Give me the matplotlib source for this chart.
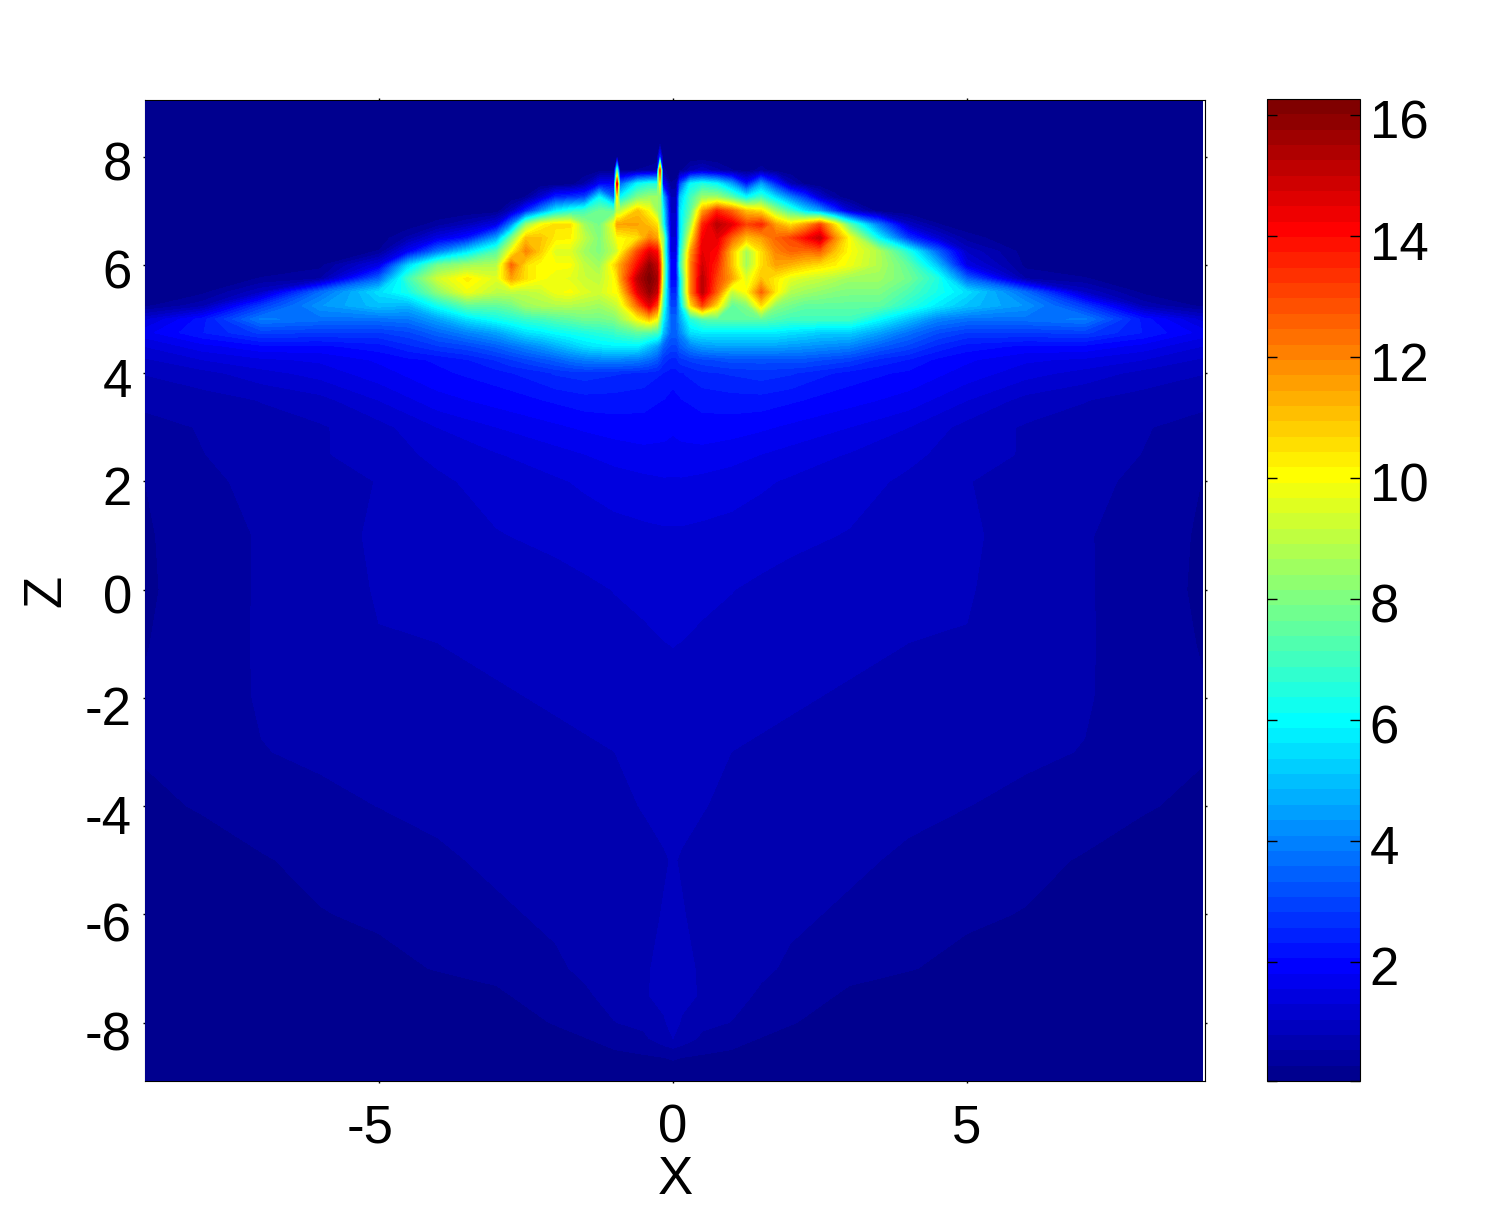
import matplotlib

matplotlib.use("Agg")
import matplotlib.pyplot as plt  # noqa: E402
import numpy as np  # noqa: E402
from matplotlib.colors import LinearSegmentedColormap  # noqa: E402
from matplotlib.transforms import ScaledTranslation  # noqa: E402

W, H = 1509, 1213
VMIN, VMAX = 0.03, 16.27

# fine grid for the bright cap, z >= 4
upper_x = [-9, -8, -7, -6, -5, -4.5, -4, -3.5, -3, -2.75, -2.5, -2.25, -2, -1.75, -1.5, -1.25,
           -1.0, -0.95, -0.9, -0.6, -0.4, -0.27, -0.22, -0.17, -0.04, 0.06, 0.12, 0.3,
           0.5, 0.75, 1, 1.25, 1.5, 1.75, 2, 2.25, 2.5, 2.75, 3, 3.5, 4, 4.5, 5, 6, 7, 8, 9]
upper_z = [4, 4.25, 4.5, 4.75, 5, 5.25, 5.5, 5.75, 6, 6.25, 6.5, 6.75, 7, 7.25, 7.5, 7.75, 8, 8.25, 9.03]
upper_vals = [
    [.8, .95, 1.2, 1.4, 1.7, 1.85, 2, 2.1, 2.2, 2.3, 2.35, 2.45, 2.6, 2.65, 2.7, 2.65,
     2.6, 2.6, 2.58, 2.52, 2.45, 2.4, 2.35, 2.3, 2.22, 2.22, 2.28, 2.35,
     2.5, 2.55, 2.6, 2.65, 2.7, 2.65, 2.6, 2.5, 2.4, 2.3, 2.2, 2.1, 2, 1.85, 1.7, 1.4, 1.2, .95, .8],
    [1, 1.3, 1.5, 1.6, 1.85, 2, 2.1, 2.3, 2.6, 2.8, 3, 3.2, 3.4, 3.7, 3.9, 4,
     4, 4, 4, 3.9, 3.6, 3.3, 3, 2.7, 2.5, 2.5, 2.7, 2.9,
     3, 3.1, 3.2, 3.2, 3.2, 3.2, 3.2, 3.2, 3.1, 3, 2.9, 2.5, 2.3, 2, 1.85, 1.6, 1.5, 1.3, 1],
    [1.3, 1.7, 2, 2, 2.2, 2.5, 2.8, 3, 3.4, 3.7, 4, 4.3, 4.7, 5.1, 5.5, 5.7,
     5.8, 5.8, 5.8, 5.8, 5, 4.5, 4, 3.5, 3, 3, 3.4, 4,
     4.4, 4.5, 4.5, 4.5, 4.5, 4.5, 4.4, 4.3, 4.2, 4.1, 4, 3.4, 3, 2.5, 2.2, 2, 2, 1.7, 1.3],
    [1.7, 2.3, 2.9, 2.8, 2.8, 3, 3.5, 4, 4.5, 5, 5.5, 5.7, 6, 6.2, 6.4, 6.6,
     6.8, 7, 7, 7.5, 7.3, 7, 6.5, 5, 3.5, 3.5, 4, 5.5,
     5.7, 5.7, 5.7, 5.7, 5.7, 5.7, 5.5, 5.4, 5.2, 5.2, 5.2, 4.5, 3.7, 3.1, 2.8, 2.8, 2.9, 2.3, 1.7],
    [1.2, 2.2, 3.9, 3.7, 3.7, 3.8, 4.5, 5.5, 6.2, 6.5, 6.8, 7, 7.3, 7.5, 7.8, 7.8,
     8, 8.2, 8.5, 10, 11, 10, 8, 6, 3.5, 3.5, 4.5, 6.5,
     7.3, 7.5, 7.5, 7.5, 7.5, 7.2, 7, 7, 7, 7, 7, 6, 5, 4, 3.7, 3.7, 3.9, 2.2, 1.2],
    [.2, .7, 2.8, 4.3, 5, 4.8, 6.2, 7.5, 7.5, 7.8, 8.5, 8.7, 8.8, 8.8, 8.7, 8.5,
     9, 9.2, 9.5, 12.5, 14.5, 13, 10, 7, 3, 3, 5, 10.5,
     13, 10.5, 7.5, 8, 10.5, 8.2, 7.8, 7.5, 7.5, 7.5, 7.5, 7.5, 6.6, 5.7, 5, 4.3, 2.8, .7, .2],
    [.1, .2, 1, 3.6, 5.5, 6.3, 8.2, 9.8, 9, 9, 9, 9.2, 9.8, 10, 9.5, 9.3,
     10, 10, 10.5, 14.5, 15.8, 15, 12, 8, 2.5, 2.5, 5.5, 12,
     15.2, 12.5, 9, 10, 12.5, 10.3, 8.8, 8.5, 8.3, 8.1, 8, 8, 7.2, 6.3, 5.5, 3.6, 1, .2, .1],
    [.05, .1, .3, .5, 3.5, 7, 9.3, 10.3, 9.5, 11.5, 10.5, 10, 9.8, 9.6, 9.2, 9,
     10, 10.5, 11.5, 15.2, 16.2, 15.5, 13, 8.8, 2, 2, 5.5, 12,
     15.2, 13, 11.5, 9.5, 11, 10.3, 9.6, 9.3, 9.1, 8.8, 8.5, 8.5, 7.8, 6.5, 3.5, .5, .3, .1, .05],
    [.05, .05, .1, .2, 1.5, 5.3, 7.8, 8.5, 8.8, 12.5, 10.5, 10, 10, 10, 9, 8.5,
     10.5, 11, 11.5, 14, 15.8, 15, 13, 9, 2, 2, 6.5, 12,
     14.8, 13.5, 11, 8.5, 10.5, 11.5, 11.2, 10.8, 10.5, 10.2, 9.8, 8.8, 7.5, 5, 1.5, .2, .1, .05, .05],
    [0, 0, .03, .1, .3, 1.8, 3.8, 5.5, 7.3, 10, 12, 10.8, 9.5, 9.5, 8.5, 8,
     9, 9.3, 10, 13, 14.5, 14, 12, 8.5, 1.5, 1.5, 6, 11.5,
     14.5, 14, 11, 8.5, 10.5, 12, 12.5, 12.3, 12.5, 11, 10, 8.8, 6.5, 3.5, 1, .15, .03, 0, 0],
    [0, 0, 0, .02, .1, .6, 1.5, 2.2, 4.5, 7.8, 11, 11, 10.3, 10.2, 9, 8,
     9.5, 10, 10, 10.5, 12, 11.5, 9.5, 8.5, 1.3, 1.3, 5.5, 10,
     14.2, 14.5, 12.5, 11, 11.5, 12.5, 13, 14, 15, 12, 10, 6, 2.8, 1.2, .4, .02, 0, 0, 0],
    [0, 0, 0, 0, .03, .1, .4, .8, 1.5, 4, 8.3, 10, 10.5, 10.5, 8.5, 7.8,
     10, 11.5, 11.5, 11.5, 11, 10.5, 8.5, 6.5, 1.2, 1.2, 5.5, 8.5,
     13.5, 15.2, 14.5, 13, 13.5, 11.5, 10.5, 11.5, 13, 10.5, 7.5, 3.8, 1, .3, .1, 0, 0, 0, 0],
    [0, 0, 0, 0, 0, 0, 0, 0, .1, .9, 2.5, 4.2, 5.8, 6.5, 7, 7.7,
     7.5, 9, 9, 11, 10, 8.5, 8, 6, 1, 1, 5.5, 7.5,
     11.5, 13.5, 12.5, 11, 10.5, 8.5, 7, 5.5, 4.5, 2.8, 1.2, .1, 0, 0, 0, 0, 0, 0, 0],
    [0, 0, 0, 0, 0, 0, 0, 0, 0, .05, .3, 1.2, 2.5, 2.7, 3, 6,
     3.5, 10, 6, 8, 8.5, 8.5, 8, 5, .8, .8, 5, 7,
     8.5, 8.5, 7.5, 6, 7, 5.5, 4, 2.8, 1.2, .4, .1, 0, 0, 0, 0, 0, 0, 0, 0],
    [0, 0, 0, 0, 0, 0, 0, 0, 0, 0, 0, 0, 0, .1, .6, 1.8,
     2, 14.5, 3.5, 6, 6.5, 6.5, 10, 2, .3, .4, 3, 6,
     6.5, 6, 4.5, 2.2, 4.5, 2.5, .8, .2, 0, 0, 0, 0, 0, 0, 0, 0, 0, 0, 0],
    [0, 0, 0, 0, 0, 0, 0, 0, 0, 0, 0, 0, 0, 0, 0, .1,
     .1, 7, .2, .3, .4, .6, 13, .4, .05, .05, .2, .7,
     1, .6, .3, .1, .4, .1, 0, 0, 0, 0, 0, 0, 0, 0, 0, 0, 0, 0, 0],
    [0, 0, 0, 0, 0, 0, 0, 0, 0, 0, 0, 0, 0, 0, 0, 0,
     0, 0, 0, 0, 0, 0, 2.5, 0, 0, 0, 0, 0,
     0, 0, 0, 0, 0, 0, 0, 0, 0, 0, 0, 0, 0, 0, 0, 0, 0, 0, 0],
    [0] * 47,
    [0] * 47,
]

# coarse grid below the cap, mirrored about x = 0 (only x >= 0 is listed)
lower_half_x = [0, .15, .5, 1, 1.5, 2, 3, 4, 5, 6, 7, 8, 9]
lower_z = [-9.09, -8.7, -8.5, -8.3, -8, -7.5, -7, -6, -5, -4, -3, -2, -1, 0, 1, 2, 2.5, 3, 3.5, 4]
lower_half_vals = [
    [.08, .08, .08, .08, .08, .08, .08, .08, .08, .08, .08, .08, .08],
    [.28, .22, .16, .12, .1, .08, .08, .08, .08, .08, .08, .08, .08],
    [.5, .45, .38, .28, .2, .14, .1, .08, .08, .08, .08, .08, .08],
    [.79, .68, .48, .38, .27, .2, .12, .09, .08, .08, .08, .08, .08],
    [.83, .78, .6, .53, .4, .3, .15, .1, .08, .08, .08, .08, .08],
    [.84, .82, .78, .62, .5, .42, .24, .14, .1, .08, .08, .08, .08],
    [.84, .83, .77, .68, .58, .5, .36, .3, .2, .13, .1, .08, .08],
    [.82, .8, .75, .68, .63, .58, .5, .42, .33, .27, .2, .14, .1],
    [.8, .78, .74, .7, .67, .64, .58, .5, .44, .36, .26, .2, .14],
    [.84, .83, .8, .75, .72, .69, .64, .59, .54, .49, .42, .3, .24],
    [.9, .89, .85, .79, .76, .73, .68, .64, .6, .57, .53, .42, .3],
    [.97, .96, .93, .89, .85, .82, .76, .72, .68, .62, .56, .42, .3],
    [1.05, 1.04, 1, .98, .94, .9, .85, .79, .78, .66, .57, .4, .27],
    [1.15, 1.14, 1.1, 1.05, 1, .96, .9, .85, .81, .68, .57, .38, .25],
    [1.25, 1.25, 1.23, 1.2, 1.15, 1.1, 1.03, .95, .82, .72, .56, .42, .25],
    [1.52, 1.52, 1.48, 1.42, 1.34, 1.26, 1.14, 1, .8, .7, .62, .47, .28],
    [1.7, 1.72, 1.72, 1.65, 1.55, 1.45, 1.28, 1.1, .93, .76, .66, .53, .36],
    [1.85, 1.9, 1.95, 1.92, 1.85, 1.75, 1.55, 1.3, .95, .76, .7, .56, .42],
    [1.95, 2.05, 2.15, 2.2, 2.2, 2.1, 1.9, 1.7, 1.3, .95, .8, .68, .62],
    [2.2, 2.3, 2.5, 2.6, 2.7, 2.6, 2.2, 2, 1.7, 1.4, 1.2, .95, .8],
]

x_ticks = [-5, 0, 5]
z_ticks = [-8, -6, -4, -2, 0, 2, 4, 6, 8]
cbar_ticks = [2, 4, 6, 8, 10, 12, 14, 16]

plt.rcParams["font.family"] = ["Liberation Sans", "DejaVu Sans"]
fig = plt.figure(figsize=(W / 100, H / 100), dpi=100)
ax = fig.add_axes([145 / W, 1 - 1081 / H, 1060 / W, 981 / H])
cax = fig.add_axes([1267 / W, 1 - 1081 / H, 93 / W, 982 / H])

levels = np.linspace(VMIN, VMAX, 65)
# the 64 step jet of the original, a bit different from matplotlib's own jet
cmap = LinearSegmentedColormap.from_list(
    "jet64", [(0, (0, 0, .5625)), (7 / 63, (0, 0, 1)), (23 / 63, (0, 1, 1)),
              (39 / 63, (1, 1, 0)), (55 / 63, (1, 0, 0)), (1, (.5, 0, 0))], N=64)

lower = np.array(lower_half_vals)
lower_x = np.r_[-np.array(lower_half_x[:0:-1]), lower_half_x]
lower = np.hstack([lower[:, :0:-1], lower])
kw = dict(levels=levels, cmap=cmap, vmin=VMIN, vmax=VMAX, zorder=3)
cf = ax.contourf(lower_x, lower_z, np.clip(lower, VMIN, VMAX), **kw)
ax.contourf(upper_x, upper_z, np.clip(np.array(upper_vals), VMIN, VMAX), **kw)

ax.set_xlim(-8.98, 9.05)
ax.set_ylim(-9.08, 9.05)
ax.set_xticks(x_ticks)
ax.set_yticks(z_ticks)
ax.set_xticklabels([str(t) for t in x_ticks])
ax.set_yticklabels([str(t) for t in z_ticks])
ax.tick_params(axis="both", which="major", direction="out", length=1.5, width=1,
               top=True, right=True, labelsize=38)
ax.tick_params(axis="x", pad=15)
ax.tick_params(axis="y", pad=8)
ax.set_xlabel("X", fontsize=38, labelpad=1)
ax.set_ylabel("Z", fontsize=38, labelpad=10)

cb = fig.colorbar(cf, cax=cax, drawedges=False)
cb.set_ticks([VMIN] + cbar_ticks)
cb.set_ticklabels([""] + [str(t) for t in cbar_ticks])
cax.tick_params(axis="y", direction="in", length=7, width=1, left=True, right=True,
                labelsize=38, pad=7)


def nudge(lab, dx, dy):
    lab.set_transform(lab.get_transform() + ScaledTranslation(dx / 100, dy / 100, fig.dpi_scale_trans))


# the labels sit a little below their ticks, more so for the negative ones
for lab, t in zip(ax.get_yticklabels(), z_ticks):
    nudge(lab, 0, -8 if t < 0 else -4)
for lab, t in zip(ax.get_xticklabels(), x_ticks):
    nudge(lab, -9 if t < 0 else 0, 0)
for lab in cax.get_yticklabels():
    nudge(lab, 0, -4)

fig.savefig("out.png", dpi=100)
